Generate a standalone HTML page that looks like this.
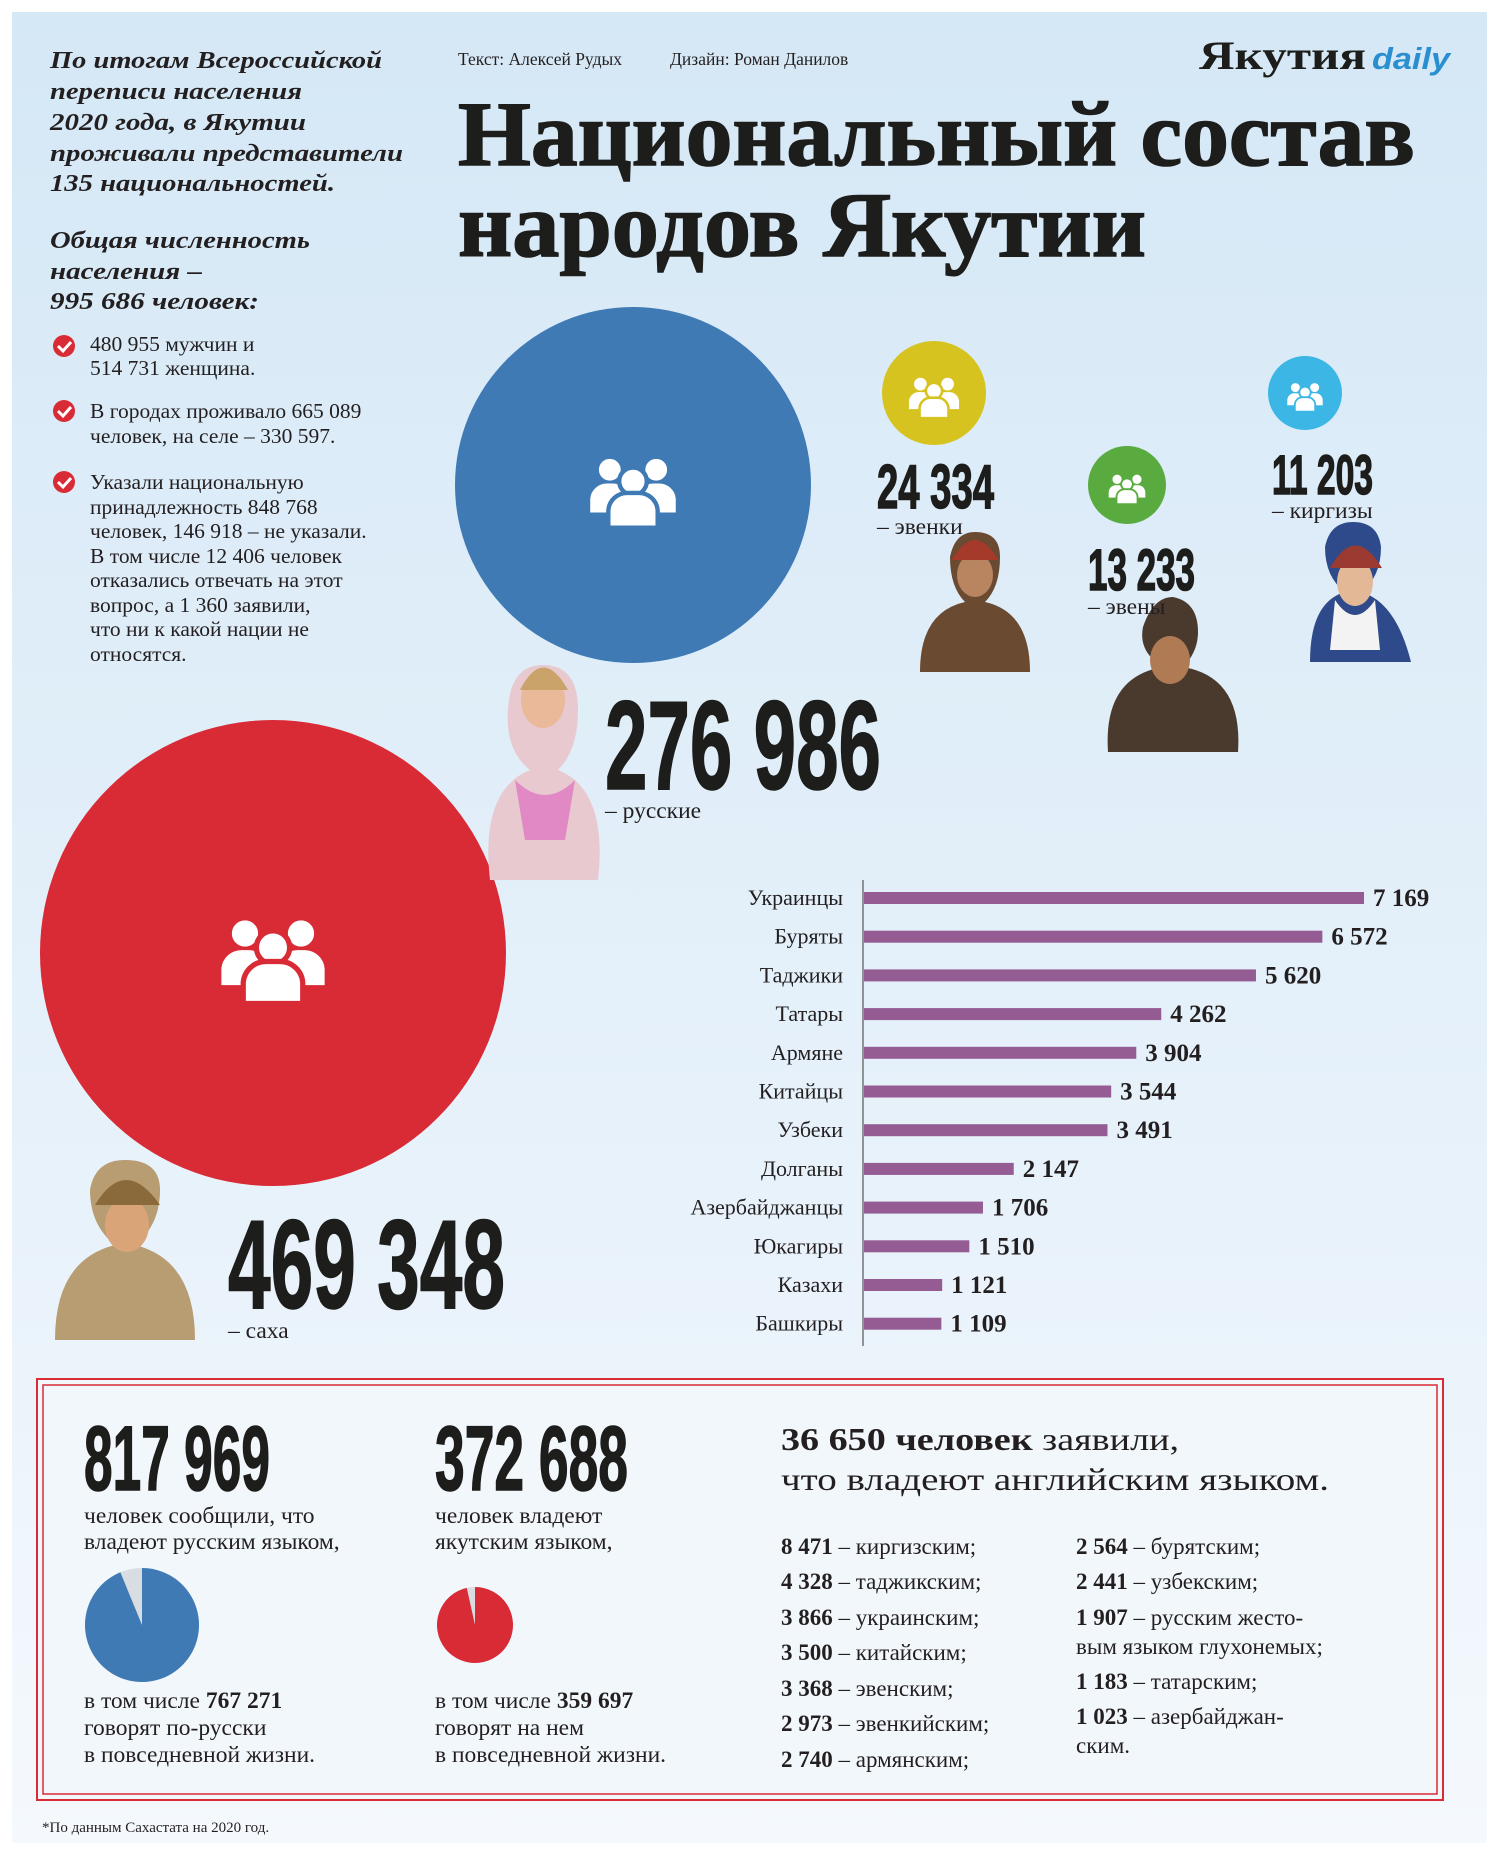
<!DOCTYPE html>
<html lang="ru"><head><meta charset="utf-8"><title>Национальный состав народов Якутии</title>
<style>html,body{margin:0;padding:0;background:#fff}svg{display:block}
.s{font-family:"Liberation Serif",serif;fill:#231f20}
.b{font-family:"Liberation Sans",sans-serif;font-weight:bold;fill:#1d1d1b}
</style></head><body>
<svg width="1500" height="1855" viewBox="0 0 1500 1855" id="root">
<defs>
<linearGradient id="bg" x1="0" y1="0" x2="0" y2="1"><stop offset="0" stop-color="#d5e8f6"/><stop offset="0.6" stop-color="#e6f1fa"/><stop offset="1" stop-color="#f5f9fd"/></linearGradient>
<g id="ppl"><circle cx="-16" cy="-14" r="8"/><circle cx="16" cy="-14" r="8"/><path d="M-30 16 v-10 a12 12 0 0 1 12 -11 h4 a12 12 0 0 1 12 11 v10z"/><path d="M30 16 v-10 a12 12 0 0 0 -12 -11 h-4 a12 12 0 0 0 -12 11 v10z"/><circle cx="0" cy="-6" r="9.5" stroke-width="3"/><path d="M-17 26 v-12 a13 13 0 0 1 13 -12 h8 a13 13 0 0 1 13 12 v12z" stroke-width="3"/></g>
</defs>
<rect x="0" y="0" width="1500" height="1855" fill="#fff"/>
<rect x="12" y="12" width="1475" height="1831" fill="url(#bg)"/>

<!-- intro -->
<g class="s" font-weight="bold" font-style="italic" font-size="24" lengthAdjust="spacingAndGlyphs">
<text x="50" y="68" textLength="332" lengthAdjust="spacingAndGlyphs">По итогам Всероссийской</text>
<text x="50" y="99" textLength="252" lengthAdjust="spacingAndGlyphs">переписи населения</text>
<text x="50" y="130" textLength="256" lengthAdjust="spacingAndGlyphs">2020 года, в Якутии</text>
<text x="50" y="161" textLength="353" lengthAdjust="spacingAndGlyphs">проживали представители</text>
<text x="50" y="191" textLength="285" lengthAdjust="spacingAndGlyphs">135 национальностей.</text>
<text x="50" y="248" textLength="260" lengthAdjust="spacingAndGlyphs">Общая численность</text>
<text x="50" y="279" textLength="152" lengthAdjust="spacingAndGlyphs">населения –</text>
<text x="50" y="309" textLength="209" lengthAdjust="spacingAndGlyphs">995 686 человек:</text>
</g>
<g class="s" font-size="21.5">
<g fill="#d92b35"><circle cx="64" cy="346" r="11"/><circle cx="64" cy="411" r="11"/><circle cx="64" cy="482" r="11"/></g>
<g stroke="#fff" stroke-width="3" fill="none"><path d="M58 346l5 5 8-9"/><path d="M58 411l5 5 8-9"/><path d="M58 482l5 5 8-9"/></g>
<text x="90" y="351">480 955 мужчин и</text><text x="90" y="375">514 731 женщина.</text>
<text x="90" y="418">В городах проживало 665 089</text><text x="90" y="443">человек, на селе – 330 597.</text>
<text x="90" y="489">Указали национальную</text><text x="90" y="514">принадлежность 848 768</text>
<text x="90" y="538">человек, 146 918 – не указали.</text><text x="90" y="563">В том числе 12 406 человек</text>
<text x="90" y="587">отказались отвечать на этот</text><text x="90" y="612">вопрос, а 1 360 заявили,</text>
<text x="90" y="636">что ни к какой нации не</text><text x="90" y="661">относятся.</text>
</g>

<text class="s" x="458" y="65" font-size="17.5">Текст: Алексей Рудых</text>
<text class="s" x="670" y="65" font-size="17.5">Дизайн: Роман Данилов</text>
<g>
<text x="1199" y="69" font-family="Liberation Serif,serif" font-weight="bold" font-size="40" fill="#1d1d1b" textLength="167" lengthAdjust="spacingAndGlyphs">Якутия</text>
<text x="1372" y="69" font-family="Liberation Sans,sans-serif" font-weight="bold" font-style="italic" font-size="31" fill="#2a8fd0" textLength="78" lengthAdjust="spacingAndGlyphs">daily</text>
</g>
<g font-family="Liberation Serif,serif" font-weight="bold" font-size="92" fill="#1d1d1b" stroke="#1d1d1b" stroke-width="1.5">
<text x="458" y="165" textLength="957" lengthAdjust="spacingAndGlyphs">Национальный состав</text>
<text x="458" y="256" textLength="688" lengthAdjust="spacingAndGlyphs">народов Якутии</text>
</g>

<!-- circles -->
<circle cx="633" cy="485" r="178" fill="#3f7ab5"/>
<use href="#ppl" transform="translate(633,490) scale(1.45)" fill="#fff" stroke="#3f7ab5"/>
<circle cx="273" cy="953" r="233" fill="#d92b35"/>
<use href="#ppl" transform="translate(273,958) scale(1.75)" fill="#fff" stroke="#d92b35"/>
<circle cx="934" cy="393" r="52" fill="#d7c320"/>
<use href="#ppl" transform="translate(934,396) scale(0.85)" fill="#fff" stroke="#d7c320"/>
<circle cx="1127" cy="485" r="39" fill="#5aab3f"/>
<use href="#ppl" transform="translate(1127,488) scale(0.62)" fill="#fff" stroke="#5aab3f"/>
<circle cx="1305" cy="393" r="37" fill="#3cb6e4"/>
<use href="#ppl" transform="translate(1305,396) scale(0.6)" fill="#fff" stroke="#3cb6e4"/>

<!-- portraits (simplified) -->
<g><path d="M490 880 q-10-90 40-110 q-25-20-22-60 q2-45 35-45 q35 0 35 45 q0 40-20 60 q50 20 40 110z" fill="#e8c9cf"/><ellipse cx="543" cy="700" rx="22" ry="28" fill="#e9b99a"/><path d="M520 690 q23-45 48 0" fill="#c9a36a"/><path d="M515 780 q30 30 60 0 l-10 60 h-40z" fill="#e089c4"/></g>
<g><path d="M55 1340 q0-80 60-95 q-25-20-25-55 q5-30 35-30 q35 0 35 30 q0 35-25 55 q60 15 60 95z" fill="#b89c72"/><ellipse cx="127" cy="1225" rx="22" ry="27" fill="#d9a578"/><path d="M95 1205 q30-50 65 0" fill="#8a6a3a"/></g>
<g><path d="M920 672 q0-60 45-70 q-15-15-15-45 q5-25 25-25 q25 0 25 25 q0 30-15 45 q45 10 45 70z" fill="#6b4a32"/><ellipse cx="975" cy="575" rx="18" ry="22" fill="#b98460"/><path d="M952 560 q23-40 46 0" fill="#a63a2a"/></g>
<g><path d="M1108 752 q-5-75 55-85 q-25-15-20-40 q10-30 30-30 q25 5 25 35 q0 20-15 35 q60 10 55 85z" fill="#4a3a2e"/><ellipse cx="1170" cy="660" rx="20" ry="24" fill="#b07a55"/></g>
<g><path d="M1310 662 q0-60 35-70 q-20-15-20-45 q5-25 28-25 q25 0 28 25 q0 30-20 45 q35 10 50 70z" fill="#2f4a8a"/><ellipse cx="1355" cy="582" rx="18" ry="24" fill="#e2b896"/><path d="M1330 568 q25-45 52 0" fill="#9a3a30"/><path d="M1335 600 q20 30 40 0 l5 50 h-50z" fill="#f3f3f3"/></g>

<!-- big numbers -->
<g class="b" stroke="#1d1d1b" stroke-width="1.5">
<text x="877" y="508" font-size="62" textLength="117" lengthAdjust="spacingAndGlyphs">24 334</text>
<text x="1088" y="590" font-size="58" textLength="107" lengthAdjust="spacingAndGlyphs">13 233</text>
<text x="1272" y="494" font-size="56" textLength="101" lengthAdjust="spacingAndGlyphs">11 203</text>
<text x="605" y="789" font-size="126" textLength="276" lengthAdjust="spacingAndGlyphs">276 986</text>
<text x="228" y="1308" font-size="126" textLength="277" lengthAdjust="spacingAndGlyphs">469 348</text>
</g>
<g class="s" font-size="23.5">
<text x="877" y="534">– эвенки</text><text x="1088" y="614">– эвены</text><text x="1272" y="518">– киргизы</text>
<text x="605" y="818">– русские</text><text x="228" y="1338">– саха</text>
</g>

<!-- bar chart -->
<g id="bars"></g>

<!-- bottom box -->
<rect x="37" y="1379" width="1406" height="421" fill="#f2f7fc" stroke="#d92b35" stroke-width="2"/>
<rect x="43" y="1385" width="1394" height="409" fill="none" stroke="#d92b35" stroke-width="1.5"/>
<g class="b" stroke="#1d1d1b" stroke-width="1.5">
<text x="84" y="1490" font-size="92" textLength="186" lengthAdjust="spacingAndGlyphs">817 969</text>
<text x="435" y="1490" font-size="92" textLength="193" lengthAdjust="spacingAndGlyphs">372 688</text>
</g>
<g class="s" font-size="23.5">
<text x="84" y="1523">человек сообщили, что</text><text x="84" y="1549">владеют русским языком,</text>
<text x="435" y="1523">человек владеют</text><text x="435" y="1549">якутским языком,</text>
<text x="84" y="1708">в том числе <tspan font-weight="bold">767 271</tspan></text><text x="84" y="1735">говорят по-русски</text><text x="84" y="1762">в повседневной жизни.</text>
<text x="435" y="1708">в том числе <tspan font-weight="bold">359 697</tspan></text><text x="435" y="1735">говорят на нем</text><text x="435" y="1762">в повседневной жизни.</text>
<text x="781" y="1450" font-size="32" textLength="398" lengthAdjust="spacingAndGlyphs"><tspan font-weight="bold">36 650 человек</tspan> заявили,</text>
<text x="781" y="1490" font-size="32" textLength="548" lengthAdjust="spacingAndGlyphs">что владеют английским языком.</text>
</g>
<g id="pies"></g>
<g class="s" font-size="23">
<text x="781" y="1554"><tspan font-weight="bold">8 471</tspan> – киргизским;</text>
<text x="781" y="1589"><tspan font-weight="bold">4 328</tspan> – таджикским;</text>
<text x="781" y="1625"><tspan font-weight="bold">3 866</tspan> – украинским;</text>
<text x="781" y="1660"><tspan font-weight="bold">3 500</tspan> – китайским;</text>
<text x="781" y="1696"><tspan font-weight="bold">3 368</tspan> – эвенским;</text>
<text x="781" y="1731"><tspan font-weight="bold">2 973</tspan> – эвенкийским;</text>
<text x="781" y="1767"><tspan font-weight="bold">2 740</tspan> – армянским;</text>
<text x="1076" y="1554"><tspan font-weight="bold">2 564</tspan> – бурятским;</text>
<text x="1076" y="1589"><tspan font-weight="bold">2 441</tspan> – узбекским;</text>
<text x="1076" y="1625"><tspan font-weight="bold">1 907</tspan> – русским жесто-</text>
<text x="1076" y="1654">вым языком глухонемых;</text>
<text x="1076" y="1689"><tspan font-weight="bold">1 183</tspan> – татарским;</text>
<text x="1076" y="1724"><tspan font-weight="bold">1 023</tspan> – азербайджан-</text>
<text x="1076" y="1753">ским.</text>
</g>
<text class="s" x="42" y="1832" font-size="15">*По данным Сахастата на 2020 год.</text>
</svg>
<script>
const categories=["Украинцы","Буряты","Таджики","Татары","Армяне","Китайцы","Узбеки","Долганы","Азербайджанцы","Юкагиры","Казахи","Башкиры"];
const values=[7169,6572,5620,4262,3904,3544,3491,2147,1706,1510,1121,1109];
const valueLabels=["7 169","6 572","5 620","4 262","3 904","3 544","3 491","2 147","1 706","1 510","1 121","1 109"];
const pieTotals=[817969,372688];
const pieDaily=[767271,359697];
const NS="http://www.w3.org/2000/svg";
const x0=864, xScale=v=>x0+v*(1364-864)/7169;
const yScale=i=>898+i*38.7;
const g=document.getElementById('bars');
function mk(t,a){const e=document.createElementNS(NS,t);for(const k in a)e.setAttribute(k,a[k]);return e;}
const axis=mk('line',{x1:x0-1,x2:x0-1,y1:880,y2:1346,stroke:'#555','stroke-width':1.2});


g.appendChild(axis);
categories.forEach((c,i)=>{
  const y=yScale(i);
  const lab=mk('text',{x:843,y:y+7,'text-anchor':'end','font-size':22,'font-family':'Liberation Serif,serif',fill:'#231f20'});
  lab.textContent=c;
  
  
  g.appendChild(lab);
  const r=mk('rect',{x:x0,y:y-6,width:xScale(values[i])-x0,height:12,fill:'#945c93'});
  
  
  g.appendChild(r);
  const v=mk('text',{x:xScale(values[i])+9,y:y+8,'font-size':25,'font-weight':'bold','font-family':'Liberation Serif,serif',fill:'#231f20'});
  v.textContent=valueLabels[i];
  
  
  g.appendChild(v);
});
const pg=document.getElementById('pies');
const pies=[{cx:142,cy:1625,r:57,c:'#3f7ab5'},{cx:475,cy:1625,r:38,c:'#d92b35'}];
pies.forEach((p,i)=>{
  const bgc=mk('circle',{cx:p.cx,cy:p.cy,r:p.r,fill:'#d8dde2'});
  
  
  pg.appendChild(bgc);
  const f=pieDaily[i]/pieTotals[i];
  const a=f*2*Math.PI;
  const ex=p.cx+p.r*Math.sin(a), ey=p.cy-p.r*Math.cos(a);
  const path=mk('path',{d:`M${p.cx} ${p.cy} L${p.cx} ${p.cy-p.r} A${p.r} ${p.r} 0 ${f>0.5?1:0} 1 ${ex} ${ey}Z`,fill:p.c});
  
  
  pg.appendChild(path);
});
</script>
</body></html>
